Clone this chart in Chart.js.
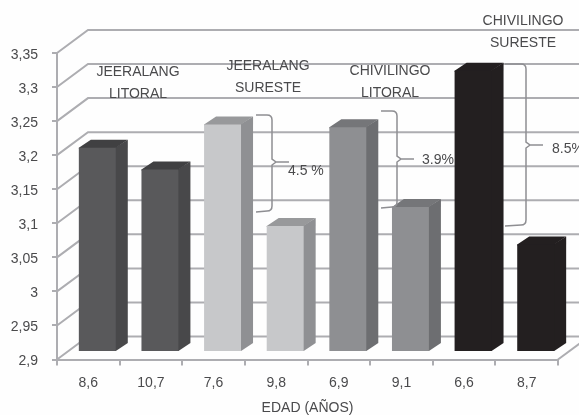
<!DOCTYPE html>
<html>
<head>
<meta charset="utf-8">
<title>Edad</title>
<script src="https://cdn.jsdelivr.net/npm/chart.js@4"></script>
<style>
  html, body { margin: 0; padding: 0; background: #fefefe; }
  canvas { display: block; }
</style>
</head>
<body>
<canvas id="chart" width="579" height="415"></canvas>
<script>
// Chart data
const categories = ['8,6', '10,7', '7,6', '9,8', '6,9', '9,1', '6,6', '8,7'];
const values = [3.2, 3.168, 3.234, 3.085, 3.23, 3.113, 3.313, 3.058];
const yTickLabels = ['2,9', '2,95', '3', '3,05', '3,1', '3,15', '3,2', '3,25', '3,3', '3,35'];
const axisTitle = 'EDAD (AÑOS)';
const yMin = 2.9;
const yMax = 3.35;

// Bar colours per face
const frontColors = ['#59595b', '#59595b', '#c7c8ca', '#c7c8ca', '#8e8f92', '#8e8f92', '#231f20', '#231f20'];
const sideColors = ['#48484a', '#48484a', '#8f9093', '#8f9093', '#6d6e71', '#6d6e71', '#231f20', '#231f20'];
const topColors = ['#404042', '#404042', '#98999b', '#98999b', '#757679', '#757679', '#231f20', '#231f20'];

const gridColor = '#adadb1';
const textColor = '#4a4a4c';
const font = '14px "Liberation Sans", Arial, sans-serif';

// Depth of the 3D box around the plot and of each bar
const wallDepth = { x: 31, y: -23 };
const barDepth = { x: 12, y: -8 };
const barShift = { x: 9, y: -7.5 };

// Group captions and the brackets with their percentages
const groupLabels = [
  { lines: ['JEERALANG', 'LITORAL'], x: 138, y: 72 },
  { lines: ['JEERALANG', 'SURESTE'], x: 268, y: 66 },
  { lines: ['CHIVILINGO', 'LITORAL'], x: 390, y: 71 },
  { lines: ['CHIVILINGO', 'SURESTE'], x: 523, y: 21 }
];
const brackets = [
  { text: '4.5 %', x0: 256, x1: 272, top: 115, bottom: 211, mid: 162, tip: 289, textX: 288, textY: 171 },
  { text: '3.9%', x0: 381, x1: 397, top: 111, bottom: 207, mid: 159, tip: 414, textX: 422, textY: 160 },
  { text: '8.5%', x0: 505, x1: 526, top: 64, bottom: 225, mid: 145, tip: 543, textX: 552, textY: 149 }
];

// Draw the wall and floor lines behind the bars
function drawWalls(chart) {
  const { ctx, chartArea, scales } = chart;
  const left = chartArea.left;
  const right = chartArea.right;

  ctx.save();
  ctx.strokeStyle = gridColor;
  ctx.lineWidth = 2;
  scales.y.ticks.forEach(tick => {
    const y = scales.y.getPixelForValue(tick.value);
    ctx.beginPath();
    ctx.moveTo(left, y);
    ctx.lineTo(left + wallDepth.x, y + wallDepth.y);
    ctx.lineTo(chart.width, y + wallDepth.y);
    ctx.stroke();
  });

  // Right edge of the floor
  const floorY = scales.y.getPixelForValue(yMin);
  ctx.beginPath();
  ctx.moveTo(right, floorY);
  ctx.lineTo(right + wallDepth.x, floorY + wallDepth.y);
  ctx.stroke();
  ctx.restore();
}

// Draw the side and top faces of each bar
function drawBarFaces(chart) {
  const { ctx } = chart;
  chart.getDatasetMeta(0).data.forEach((bar, i) => {
    const x0 = bar.x - bar.width / 2;
    const x1 = bar.x + bar.width / 2;

    ctx.fillStyle = sideColors[i];
    ctx.beginPath();
    ctx.moveTo(x1 - 1, bar.y);
    ctx.lineTo(x1 + barDepth.x, bar.y + barDepth.y);
    ctx.lineTo(x1 + barDepth.x, bar.base + barDepth.y);
    ctx.lineTo(x1, bar.base);
    ctx.lineTo(x1 - 1, bar.base);
    ctx.closePath();
    ctx.fill();

    ctx.fillStyle = topColors[i];
    ctx.beginPath();
    ctx.moveTo(x0, bar.y + 1);
    ctx.lineTo(x0, bar.y);
    ctx.lineTo(x0 + barDepth.x, bar.y + barDepth.y);
    ctx.lineTo(x1 + barDepth.x, bar.y + barDepth.y);
    ctx.lineTo(x1, bar.y);
    ctx.lineTo(x1, bar.y + 1);
    ctx.closePath();
    ctx.fill();
  });
}

function drawBracket(ctx, b) {
  ctx.beginPath();
  ctx.moveTo(b.x0, b.top);
  ctx.lineTo(b.x1 - 5, b.top);
  ctx.quadraticCurveTo(b.x1, b.top, b.x1, b.top + 5);
  ctx.lineTo(b.x1, b.mid - 3);
  ctx.lineTo(b.x1 + 4, b.mid);
  ctx.lineTo(b.x1, b.mid + 3);
  ctx.lineTo(b.x1, b.bottom - 5);
  ctx.quadraticCurveTo(b.x1, b.bottom, b.x1 - 5, b.bottom);
  ctx.lineTo(b.x0, b.bottom + 1);
  ctx.moveTo(b.x1 + 4, b.mid);
  ctx.lineTo(b.tip, b.mid);
  ctx.stroke();
}

// Captions and brackets go on top of everything else
function drawAnnotations(chart) {
  const { ctx } = chart;
  ctx.save();
  ctx.font = font;
  ctx.fillStyle = textColor;
  ctx.textBaseline = 'middle';

  ctx.textAlign = 'center';
  groupLabels.forEach(g => {
    g.lines.forEach((line, i) => ctx.fillText(line, g.x, g.y + i * 22));
  });

  ctx.textAlign = 'left';
  ctx.strokeStyle = '#8e8e92';
  ctx.lineWidth = 1.5;
  brackets.forEach(b => {
    drawBracket(ctx, b);
    ctx.fillText(b.text, b.textX, b.textY);
  });
  ctx.restore();
}

const box3d = {
  id: 'box3d',
  beforeDatasetsDraw(chart) {
    drawWalls(chart);
    // Bars sit partway into the box, so the whole dataset is shifted
    chart.ctx.save();
    chart.ctx.translate(barShift.x, barShift.y);
    drawBarFaces(chart);
  },
  afterDatasetsDraw(chart) {
    chart.ctx.restore();
    drawAnnotations(chart);
  }
};

new Chart(document.getElementById('chart'), {
  type: 'bar',
  data: {
    labels: categories,
    datasets: [{
      data: values,
      base: yMin,
      backgroundColor: frontColors,
      borderWidth: 0,
      barPercentage: 0.59,
      categoryPercentage: 1,
      clip: false
    }]
  },
  plugins: [box3d],
  options: {
    responsive: false,
    animation: false,
    layout: { padding: { top: 53, right: 21, left: 0, bottom: 0 } },
    plugins: {
      legend: { display: false },
      tooltip: { enabled: false }
    },
    scales: {
      x: {
        afterFit(scale) { scale.height = 55.5; },
        grid: { drawOnChartArea: false, color: gridColor, lineWidth: 2, tickLength: 6 },
        border: { color: gridColor, width: 2 },
        ticks: {
          color: textColor,
          font: { family: '"Liberation Sans", Arial, sans-serif', size: 14 },
          padding: 9,
          maxRotation: 0,
          autoSkip: false
        },
        title: {
          display: true,
          text: axisTitle,
          color: textColor,
          font: { family: '"Liberation Sans", Arial, sans-serif', size: 14 },
          padding: { top: 0, bottom: -2 }
        }
      },
      y: {
        min: yMin,
        max: yMax,
        afterFit(scale) { scale.width = 57; },
        grid: { drawOnChartArea: false, color: gridColor, lineWidth: 2, tickLength: 5 },
        border: { color: gridColor, width: 2 },
        ticks: {
          stepSize: 0.05,
          color: textColor,
          font: { family: '"Liberation Sans", Arial, sans-serif', size: 14 },
          padding: 14,
          labelOffset: 2,
          callback: (value, index) => yTickLabels[index]
        }
      }
    }
  }
});
</script>
</body>
</html>
